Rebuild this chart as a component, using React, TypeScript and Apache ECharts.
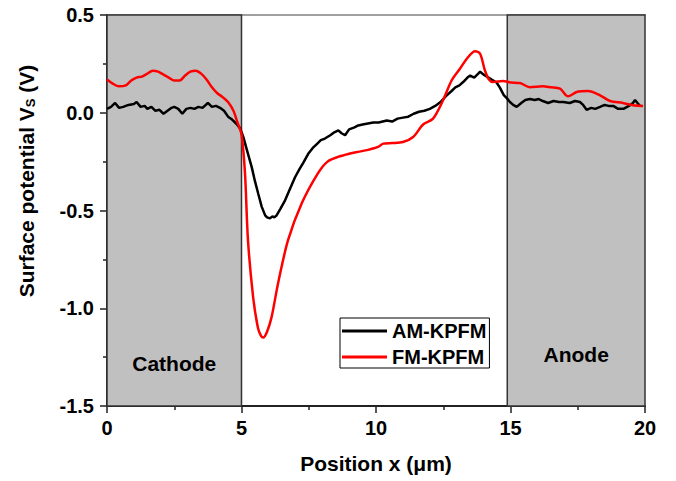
import React, { useEffect, useRef } from "react";
import * as echarts from "echarts";

const xTicks = [0, 5, 10, 15, 20];
const yTicks = [-1.5, -1.0, -0.5, 0.0, 0.5];
const seriesNames = ["AM-KPFM", "FM-KPFM"];
const regionNames = ["Cathode", "Anode"];
const cathodeRange = [0, 5];
const anodeRange = [14.88, 20];

const amData: [number, number][] = [
  [0.0, 0.02], [0.15, 0.03], [0.3, 0.05], [0.45, 0.025], [0.6, 0.03], [0.8, 0.04],
  [1.0, 0.045], [1.1, 0.055], [1.25, 0.03], [1.4, 0.035], [1.5, 0.02], [1.65, 0.03],
  [1.8, 0.01], [1.95, 0.015], [2.1, -0.005], [2.25, 0.01], [2.4, 0.025], [2.5, 0.03],
  [2.65, 0.02], [2.8, -0.005], [2.95, 0.02], [3.1, 0.025], [3.25, 0.02], [3.4, 0.03],
  [3.55, 0.025], [3.75, 0.05], [3.9, 0.03], [4.05, 0.035], [4.2, 0.025], [4.35, 0.01],
  [4.5, -0.02], [4.65, -0.035], [4.8, -0.055], [4.95, -0.08], [5.07, -0.125], [5.2, -0.19],
  [5.38, -0.278], [5.5, -0.35], [5.62, -0.413], [5.75, -0.48], [5.88, -0.525], [5.95, -0.535],
  [6.06, -0.54], [6.15, -0.53], [6.22, -0.535], [6.31, -0.524], [6.45, -0.49], [6.62, -0.448],
  [6.8, -0.39], [6.99, -0.33], [7.15, -0.29], [7.3, -0.255], [7.48, -0.21], [7.65, -0.18],
  [7.8, -0.16], [7.95, -0.14], [8.1, -0.132], [8.3, -0.115], [8.45, -0.1], [8.6, -0.09],
  [8.72, -0.105], [8.85, -0.115], [9.0, -0.085], [9.2, -0.075], [9.34, -0.065], [9.5, -0.06],
  [9.7, -0.055], [9.9, -0.05], [10.1, -0.05], [10.4, -0.04], [10.6, -0.045], [10.8, -0.03],
  [11.0, -0.025], [11.2, -0.02], [11.4, -0.005], [11.6, 0.005], [11.8, 0.01], [12.0, 0.02],
  [12.2, 0.035], [12.4, 0.055], [12.6, 0.085], [12.8, 0.11], [12.95, 0.13], [13.1, 0.14],
  [13.24, 0.157], [13.4, 0.18], [13.5, 0.19], [13.65, 0.18], [13.8, 0.2], [13.87, 0.21],
  [14.0, 0.195], [14.11, 0.186], [14.3, 0.17], [14.48, 0.155], [14.6, 0.13], [14.75, 0.09],
  [14.86, 0.075], [14.98, 0.055], [15.1, 0.04], [15.23, 0.03], [15.4, 0.05], [15.55, 0.065],
  [15.72, 0.07], [15.9, 0.065], [16.05, 0.07], [16.2, 0.06], [16.4, 0.05], [16.6, 0.06],
  [16.8, 0.055], [16.96, 0.055], [17.2, 0.05], [17.4, 0.06], [17.58, 0.055], [17.7, 0.04],
  [17.83, 0.015], [18.0, 0.025], [18.15, 0.02], [18.33, 0.03], [18.5, 0.04], [18.65, 0.035],
  [18.82, 0.035], [19.0, 0.02], [19.2, 0.02], [19.4, 0.035], [19.55, 0.05], [19.63, 0.065],
  [19.72, 0.05], [19.81, 0.035],
];

const fmData: [number, number][] = [
  [0.0, 0.17], [0.2, 0.15], [0.45, 0.135], [0.7, 0.14], [0.9, 0.165], [1.1, 0.18],
  [1.3, 0.185], [1.5, 0.2], [1.7, 0.215], [1.9, 0.21], [2.1, 0.195], [2.3, 0.18],
  [2.5, 0.165], [2.7, 0.165], [2.9, 0.19], [3.1, 0.21], [3.3, 0.215], [3.5, 0.2],
  [3.7, 0.17], [3.9, 0.13], [4.1, 0.1], [4.3, 0.08], [4.5, 0.055], [4.7, 0.01],
  [4.85, -0.05], [5.0, -0.11], [5.13, -0.31], [5.24, -0.65], [5.43, -0.94], [5.61, -1.1],
  [5.72, -1.14], [5.81, -1.15], [5.95, -1.12], [6.12, -1.044], [6.36, -0.872], [6.73, -0.652],
  [7.24, -0.463], [7.84, -0.31], [8.2, -0.25], [8.59, -0.226], [9.0, -0.21], [9.33, -0.2],
  [9.7, -0.19], [10.07, -0.175], [10.27, -0.158], [10.6, -0.155], [11.0, -0.15], [11.38, -0.124],
  [11.75, -0.06], [12.12, -0.03], [12.49, 0.063], [12.81, 0.165], [13.12, 0.225], [13.42, 0.284],
  [13.68, 0.314], [13.87, 0.302], [14.05, 0.216], [14.2, 0.17], [14.35, 0.157], [14.72, 0.162],
  [15.0, 0.155], [15.35, 0.152], [15.72, 0.131], [16.2, 0.135], [16.5, 0.13], [16.84, 0.123],
  [17.14, 0.084], [17.46, 0.106], [17.88, 0.111], [18.33, 0.089], [18.7, 0.06], [19.18, 0.05],
  [19.55, 0.038], [19.93, 0.035],
];

const FONT = 'Arial, "Liberation Sans", sans-serif';

export default function App() {
  const ref = useRef<HTMLDivElement>(null);
  useEffect(() => {
    if (!ref.current) return;
    const chart = echarts.init(ref.current, undefined, { renderer: "svg" });
    const axisText = { fontFamily: FONT, fontWeight: "bold" as const, fontSize: 20, color: "#000" };
    const lineIcon = "path://M0,0 L45,0 L45,3 L0,3 Z";
    chart.setOption({
      animation: false,
      backgroundColor: "#fff",
      grid: { left: 107, right: 31, top: 15, bottom: 75 },
      legend: {
        orient: "vertical",
        left: 340,
        top: 318,
        padding: [3, 3, 1, 2],
        itemGap: 6,
        itemWidth: 45,
        itemHeight: 20,
        borderColor: "#000",
        borderWidth: 1,
        backgroundColor: "#fff",
        textStyle: { ...axisText, fontSize: 20 },
        data: seriesNames.map((n) => ({ name: n, icon: lineIcon })),
      },
      graphic: [
        {
          type: "text",
          x: 26,
          y: 181,
          rotation: Math.PI / 2,
          style: {
            text: "Surface potential V{sub|S} (V)",
            fontFamily: FONT,
            fontWeight: "bold",
            fontSize: 21,
            fill: "#000",
            align: "center",
            verticalAlign: "middle",
            rich: {
              sub: { fontFamily: FONT, fontWeight: "bold", fontSize: 13, fill: "#000", padding: [9, 0, 0, 0] },
            },
          },
        },
      ],
      xAxis: [
        {
          type: "value",
          min: xTicks[0],
          max: xTicks[xTicks.length - 1],
          interval: 5,
          name: "Position x (μm)",
          nameLocation: "middle",
          nameGap: 47,
          nameTextStyle: { ...axisText, fontSize: 21 },
          axisLine: { show: true, onZero: false, lineStyle: { color: "#222", width: 2 } },
          axisTick: { show: true, inside: false, length: 7, lineStyle: { color: "#222", width: 1.5 } },
          minorTick: { show: true, splitNumber: 2, length: 4, lineStyle: { color: "#222", width: 1.5 } },
          axisLabel: { ...axisText, margin: 12, formatter: (v: number) => String(v) },
          splitLine: { show: false },
        },
        {
          type: "value",
          position: "top",
          min: xTicks[0],
          max: xTicks[xTicks.length - 1],
          axisLine: { show: true, onZero: false, lineStyle: { color: "#808080", width: 1.5 } },
          axisTick: { show: false },
          axisLabel: { show: false },
          splitLine: { show: false },
        },
      ],
      yAxis: {
        type: "value",
        min: yTicks[0],
        max: yTicks[yTicks.length - 1],
        interval: 0.5,
        axisLine: { show: true, onZero: false, lineStyle: { color: "#222", width: 2 } },
        axisTick: { show: true, inside: false, length: 7, lineStyle: { color: "#222", width: 1.5 } },
        minorTick: { show: true, splitNumber: 2, length: 4, lineStyle: { color: "#222", width: 1.5 } },
        axisLabel: { ...axisText, margin: 13, formatter: (v: number) => v.toFixed(1) },
        splitLine: { show: false },
      },
      series: [
        {
          name: "regions",
          type: "line",
          data: [],
          z: 1,
          silent: true,
          markArea: {
            silent: true,
            itemStyle: { color: "#c0c0c0", borderColor: "#333", borderWidth: 1.5 },
            data: [
              [
                {
                  name: regionNames[0],
                  xAxis: cathodeRange[0],
                  yAxis: yTicks[0],
                  label: { position: "insideBottom", distance: 33 },
                },
                { xAxis: cathodeRange[1], yAxis: yTicks[yTicks.length - 1] },
              ],
              [
                {
                  name: regionNames[1],
                  xAxis: anodeRange[0],
                  yAxis: yTicks[0],
                  label: { position: "insideBottom", distance: 42 },
                },
                { xAxis: anodeRange[1], yAxis: yTicks[yTicks.length - 1] },
              ],
            ],
            label: { show: true, fontFamily: FONT, fontWeight: "bold", fontSize: 21, color: "#000" },
          },
        },
        {
          name: seriesNames[0],
          type: "line",
          data: amData,
          z: 3,
          symbol: "none",
          smooth: false,
          lineStyle: { color: "#000", width: 2.5 },
          itemStyle: { color: "#000" },
        },
        {
          name: seriesNames[1],
          type: "line",
          data: fmData,
          z: 4,
          symbol: "none",
          smooth: 0.3,
          lineStyle: { color: "#ff0000", width: 2.5 },
          itemStyle: { color: "#ff0000" },
        },
      ],
    });
    return () => chart.dispose();
  }, []);
  return <div ref={ref} style={{ position: "fixed", left: 0, top: 0, width: 676, height: 481 }} />;
}
